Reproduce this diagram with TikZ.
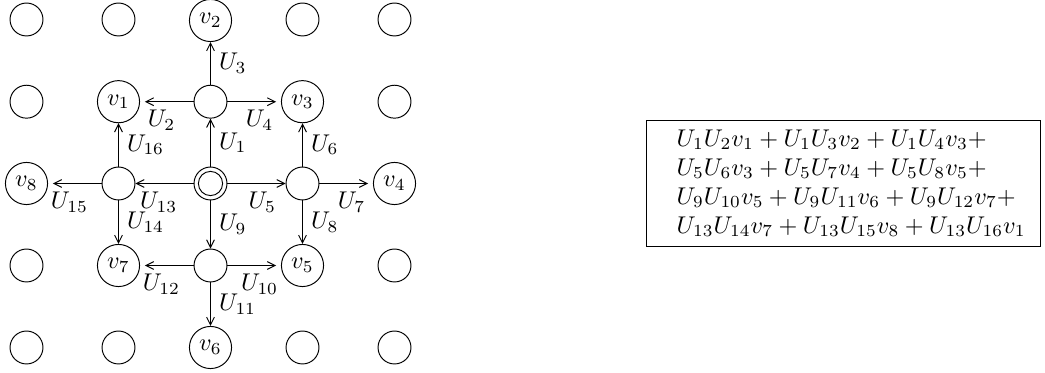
\documentclass[tikz,border=0pt]{standalone}
\usetikzlibrary{arrows.meta}
\begin{document}
\begin{tikzpicture}[x=0.413pt,y=-0.413pt,
  plain/.style={draw,circle,minimum size=13.6pt,inner sep=0pt},
  vnode/.style={draw,circle,minimum size=17.4pt,inner sep=0pt},
  arr/.style={draw,-{Straight Barb[length=3.2pt,width=3.2pt]}},
  arrv/.style={arr,shorten >=2pt},
  lb/.style={below,pos=.6},
  lr/.style={right,pos=.5}]
\useasboundingbox (0,0) rectangle (1045,373);
% plain circles
\node[plain] (g11) at (26.5,19.5) {};
\node[plain] (g21) at (118.5,19.5) {};
\node[plain] (g41) at (302.5,19.5) {};
\node[plain] (g51) at (394.5,19.5) {};
\node[plain] (g12) at (26.5,101.7) {};
\node[plain] (g52) at (394.5,101.7) {};
\node[plain] (g14) at (26.5,265.5) {};
\node[plain] (g54) at (394.5,265.5) {};
\node[plain] (g15) at (26.5,347.5) {};
\node[plain] (g25) at (118.5,347.5) {};
\node[plain] (g45) at (302.5,347.5) {};
\node[plain] (g55) at (394.5,347.5) {};
% intermediate
\node[plain] (a) at (210.5,101.7) {};
\node[plain] (l) at (118.5,183.5) {};
\node[plain] (r) at (302.5,183.5) {};
\node[plain] (b) at (210.5,265.5) {};
\node[plain] (c) at (210.5,183.5) {};
\draw (c.center) circle[radius=5pt];
% v nodes
\node[vnode] (v1) at (118.5,101.7) {$v_1$};
\node[vnode] (v2) at (210.5,20.5) {$v_2$};
\node[vnode] (v3) at (302.5,101.7) {$v_3$};
\node[vnode] (v4) at (394.5,183.5) {$v_4$};
\node[vnode] (v5) at (302.5,265.5) {$v_5$};
\node[vnode] (v6) at (210.5,347.5) {$v_6$};
\node[vnode] (v7) at (118.5,265.5) {$v_7$};
\node[vnode] (v8) at (26.5,183.5) {$v_8$};
% arrows
\draw[arr] (c) -- node[lr] {$U_1$} (a);
\draw[arrv] (a) -- node[lb] {$U_2$} (v1);
\draw[arr] (a) -- node[lr] {$U_3$} (v2);
\draw[arrv] (a) -- node[lb] {$U_4$} (v3);
\draw[arr] (c) -- node[lb] {$U_5$} (r);
\draw[arr] (r) -- node[lr] {$U_6$} (v3);
\draw[arrv] (r) -- node[lb] {$U_7$} (v4);
\draw[arr] (r) -- node[lr] {$U_8$} (v5);
\draw[arr] (c) -- node[lr] {$U_9$} (b);
\draw[arrv] (b) -- node[lb] {$U_{10}$} (v5);
\draw[arr] (b) -- node[lr] {$U_{11}$} (v6);
\draw[arrv] (b) -- node[lb] {$U_{12}$} (v7);
\draw[arr] (c) -- node[lb] {$U_{13}$} (l);
\draw[arr] (l) -- node[lr] {$U_{14}$} (v7);
\draw[arrv] (l) -- node[lb] {$U_{15}$} (v8);
\draw[arr] (l) -- node[lr] {$U_{16}$} (v1);
% formula box
\node[draw,inner xsep=0pt,inner ysep=2pt] (eq) at (843.7,183.9) {%
\begin{tabular}{@{\hspace{12.4pt}}l@{\hspace{6.2pt}}}
$U_1U_2v_1+U_1U_3v_2+U_1U_4v_3+$\\
$U_5U_6v_3+U_5U_7v_4+U_5U_8v_5+$\\
$U_9U_{10}v_5+U_9U_{11}v_6+U_9U_{12}v_7+$\\
$U_{13}U_{14}v_7+U_{13}U_{15}v_8+U_{13}U_{16}v_1$
\end{tabular}};
\end{tikzpicture}
\end{document}
